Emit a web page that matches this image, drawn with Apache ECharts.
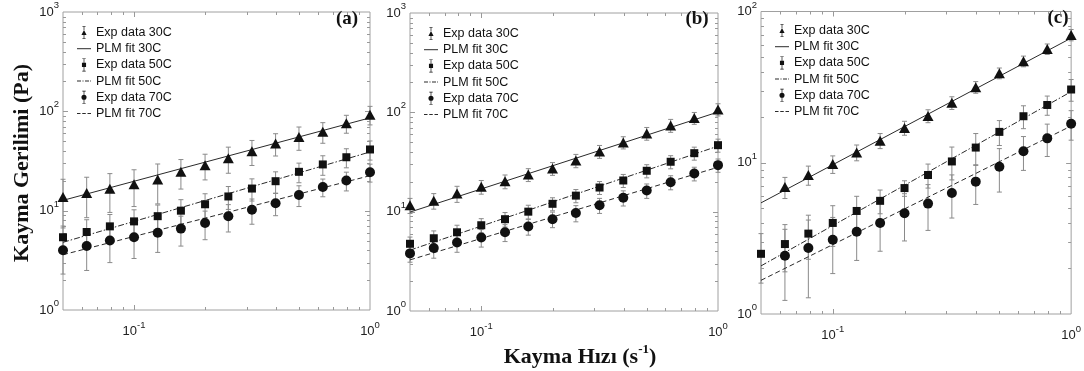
<!DOCTYPE html>
<html>
<head>
<meta charset="utf-8">
<script src="https://cdn.jsdelivr.net/npm/echarts@6/dist/echarts.min.js"></script>
<style>
  html, body { margin: 0; padding: 0; background: #fff; }
  #myChart { width: 1084px; height: 371px; }
</style>
</head>
<body>
<div id="myChart"></div>
<script>
let myChart = echarts.init(document.getElementById('myChart'));

// shear rate (1/s), same for every panel
const shearRate = [0.05, 0.063, 0.079, 0.1, 0.126, 0.158, 0.2, 0.251, 0.316, 0.398, 0.5, 0.631, 0.794, 1.0];
const fitRate = [0.05, 1.0];

// panel (a)
const a30 = [13.7, 15.1, 16.6, 18.4, 20.6, 24.6, 28.7, 33.7, 39.7, 47.5, 55, 62.3, 75.7, 92.6];
const a30err = [7, 6.6, 7, 7.4, 8.9, 8.1, 8.3, 9.9, 11.2, 12, 14.5, 14.6, 15.5, 19.6];
const a50 = [5.4, 6.1, 6.95, 7.8, 8.8, 10, 11.6, 13.9, 16.7, 19.8, 24.6, 29.2, 34.5, 41.3];
const a50err = [1.6, 2.0, 2.2, 2.4, 2.6, 2.9, 3.2, 3.6, 4.2, 4.8, 5.5, 6.5, 7.5, 9];
const a70 = [4.0, 4.4, 5.0, 5.4, 6.0, 6.6, 7.5, 8.8, 10.2, 11.9, 14.4, 17.3, 20.1, 24.4];
const a70err = [1.7, 1.9, 2.0, 2.1, 2.2, 2.2, 2.4, 2.7, 2.9, 3.0, 3.4, 3.5, 4.3, 5];
const aFit30 = [12.7, 86];
const aFit50 = [4.8, 39];
const aFit70 = [3.6, 22.5];

// panel (b)
const b30 = [11.6, 12.9, 15.2, 17.8, 20.2, 23.6, 27.2, 32.7, 40.4, 49.8, 61.4, 73.9, 87.7, 107];
const b30err = [2, 2.3, 2.8, 2.8, 3.2, 3.5, 4, 5, 6, 7, 9, 11, 12, 15];
const b50 = [4.75, 5.4, 6.2, 7.3, 8.4, 10, 12.0, 14.5, 17.5, 20.6, 25.8, 31.8, 38.8, 46.7];
const b50err = [0.8, 1.0, 1.1, 1.2, 1.4, 1.6, 1.8, 2.2, 2.6, 3.1, 3.9, 4.8, 5.8, 7];
const b70 = [3.8, 4.3, 4.9, 5.5, 6.2, 7.1, 8.4, 9.7, 11.6, 13.8, 16.3, 19.8, 24.2, 29.4];
const b70err = [0.7, 0.9, 1.0, 1.1, 1.2, 1.3, 1.5, 1.8, 2.0, 2.4, 2.7, 3.2, 3.8, 4.5];
const bFit30 = [9.9, 100.7];
const bFit50 = [4.1, 45.7];
const bFit70 = [3.27, 28];

// panel (c)
const c30 = [null, 6.9, 8.3, 9.8, 11.7, 14.0, 17.0, 20.4, 24.9, 31.6, 39.1, 46.9, 56.5, 70];
const c30err = [null, 1.1, 1.2, 1.3, 1.4, 1.6, 1.8, 2.0, 2.4, 2.8, 3.2, 3.8, 4.5, 6];
const c50 = [2.5, 2.9, 3.4, 4.0, 4.8, 5.6, 6.8, 8.3, 10.2, 12.6, 16.0, 20.3, 24.1, 30.5];
const c50err = [0.9, 1.0, 1.1, 1.2, 1.2, 1.0, 0.8, 1.5, 2.5, 3, 3, 3.5, 3.5, 5];
const c70 = [null, 2.43, 2.73, 3.1, 3.5, 4.0, 4.64, 5.37, 6.31, 7.5, 9.4, 11.9, 14.5, 18.1];
const c70err = [null, 1.2, 1.45, 1.25, 1.24, 1.4, 1.6, 1.8, 2.0, 2.2, 3, 3, 3.5, 4];
const cFit30 = [5.43, 66.7];
const cFit50 = [2.08, 29.5];
const cFit70 = [1.67, 17.5];

// tick positions
const majorX = [0.1];
const minorX = [0.06, 0.07, 0.08, 0.09, 0.2, 0.3, 0.4, 0.5, 0.6, 0.7, 0.8, 0.9];
const majorY = [10, 100];
const minorY = [2, 3, 4, 5, 6, 7, 8, 9, 20, 30, 40, 50, 60, 70, 80, 90, 200, 300, 400, 500, 600, 700, 800, 900];

const panelLabels = ['(a)', '(b)', '(c)'];
const yMaxes = [1000, 1000, 100];

const panels = [
  { exp: [a30, a50, a70], err: [a30err, a50err, a70err], fit: [aFit30, aFit50, aFit70] },
  { exp: [b30, b50, b70], err: [b30err, b50err, b70err], fit: [bFit30, bFit50, bFit70] },
  { exp: [c30, c50, c70], err: [c30err, c50err, c70err], fit: [cFit30, cFit50, cFit70] }
];

const grids = [
  { left: 63, top: 12, width: 307, height: 298 },
  { left: 410, top: 13, width: 308, height: 298 },
  { left: 761, top: 10, width: 311, height: 304 }
];
const labelPos = [[347, 19], [697, 19], [1058, 18]];

const temps = ['30C', '50C', '70C'];
const markers = ['triangle', 'rect', 'circle'];
const markerSize = [[11, 10], 8, 10];
const fitDash = ['solid', [6, 2, 1.5, 2], [5, 3]];

// legend icons: small error bar with the marker in the middle
const expIcons = [
  'path://M4.6 1 L5.4 1 L5.4 5 L4.6 5 Z M3 0.4 L7 0.4 L7 1.1 L3 1.1 Z M4.6 11 L5.4 11 L5.4 15 L4.6 15 Z M3 14.9 L7 14.9 L7 15.6 L3 15.6 Z M2 10.8 L5 5 L8 10.8 Z',
  'path://M4.6 1 L5.4 1 L5.4 5.5 L4.6 5.5 Z M3 0.4 L7 0.4 L7 1.1 L3 1.1 Z M4.6 10.5 L5.4 10.5 L5.4 15 L4.6 15 Z M3 14.9 L7 14.9 L7 15.6 L3 15.6 Z M2.6 5.4 L7.4 5.4 L7.4 10.6 L2.6 10.6 Z',
  'path://M4.6 1 L5.4 1 L5.4 5 L4.6 5 Z M3 0.4 L7 0.4 L7 1.1 L3 1.1 Z M4.6 11 L5.4 11 L5.4 15 L4.6 15 Z M3 14.9 L7 14.9 L7 15.6 L3 15.6 Z M2 8 A3 3 0 1 1 8 8 A3 3 0 1 1 2 8 Z'
];
// legend icons for the fit lines (solid, dash-dot, dashed)
const fitIcons = [
  'path://M0 0 L14 0 L14 1 L0 1 Z',
  'path://M0 0 L4 0 L4 1 L0 1 Z M5.5 0 L6.5 0 L6.5 1 L5.5 1 Z M8 0 L12 0 L12 1 L8 1 Z M13.2 0 L14 0 L14 1 L13.2 1 Z',
  'path://M0 0 L3.5 0 L3.5 1 L0 1 Z M5.25 0 L8.75 0 L8.75 1 L5.25 1 Z M10.5 0 L14 0 L14 1 L10.5 1 Z'
];

const legendData = [];
temps.forEach(function (t, k) {
  legendData.push({ name: 'Exp data ' + t, icon: expIcons[k] });
  legendData.push({ name: 'PLM fit ' + t, icon: fitIcons[k] });
});

function powLabel(value) {
  const e = Math.log10(value);
  const n = Math.round(e);
  if (Math.abs(e - n) > 1e-6) return '';
  return '{b|10}{e|' + n + '}';
}
const labelRich = {
  b: { fontSize: 13, fontFamily: 'Liberation Sans', color: '#222', lineHeight: 23 },
  e: { fontSize: 9.5, fontFamily: 'Liberation Sans', color: '#222', lineHeight: 10, verticalAlign: 'top' }
};

function renderErrorBar(params, api) {
  const x = api.value(0);
  const top = api.coord([x, api.value(2)]);
  const bot = api.coord([x, api.value(1)]);
  const cap = 2.5;
  const style = { stroke: '#8a8a8a', lineWidth: 1 };
  return {
    type: 'group',
    children: [
      { type: 'line', shape: { x1: top[0], y1: top[1], x2: bot[0], y2: bot[1] }, style: style },
      { type: 'line', shape: { x1: top[0] - cap, y1: top[1], x2: top[0] + cap, y2: top[1] }, style: style },
      { type: 'line', shape: { x1: bot[0] - cap, y1: bot[1], x2: bot[0] + cap, y2: bot[1] }, style: style }
    ]
  };
}

function renderTick(params, api) {
  const cs = params.coordSys;
  const kind = api.value(2);
  const p = api.coord([api.value(0), api.value(1)]);
  const len = (kind === 1 || kind === 3) ? 5 : 3;
  const style = { stroke: '#999', lineWidth: 1 };
  let shapes;
  if (kind < 2) {
    const x = Math.round(p[0]) + 0.5;
    const b = cs.y + cs.height;
    shapes = [
      { x1: x, y1: b, x2: x, y2: b - len },
      { x1: x, y1: cs.y, x2: x, y2: cs.y + len }
    ];
  } else {
    const y = Math.round(p[1]) + 0.5;
    const r = cs.x + cs.width;
    shapes = [
      { x1: cs.x, y1: y, x2: cs.x + len, y2: y },
      { x1: r, y1: y, x2: r - len, y2: y }
    ];
  }
  return {
    type: 'group',
    children: shapes.map(function (s) { return { type: 'line', shape: s, style: style }; })
  };
}

const xAxes = [];
const yAxes = [];
const series = [];
const legends = [];
const graphics = [];

grids.forEach(function (g, i) {
  xAxes.push({
    type: 'log', gridIndex: i, min: 0.05, max: 1, logBase: 10,
    axisLine: { show: false }, axisTick: { show: false }, splitLine: { show: false },
    axisLabel: { formatter: powLabel, rich: labelRich, margin: 10, showMinLabel: true, showMaxLabel: true }
  });
  yAxes.push({
    type: 'log', gridIndex: i, min: 1, max: yMaxes[i], logBase: 10,
    axisLine: { show: false }, axisTick: { show: false }, splitLine: { show: false },
    axisLabel: { formatter: powLabel, rich: labelRich, margin: 4 }
  });

  const p = panels[i];
  temps.forEach(function (t, k) {
    const vals = p.exp[k];
    const errs = p.err[k];
    const errData = [];
    const ptData = [];
    shearRate.forEach(function (x, j) {
      if (vals[j] == null) return;
      ptData.push([x, vals[j]]);
      errData.push([x, Math.max(vals[j] - errs[j], 1.01), vals[j] + errs[j]]);
    });
    series.push({
      type: 'custom', xAxisIndex: i, yAxisIndex: i, renderItem: renderErrorBar,
      data: errData, encode: { x: 0, y: [1, 2] }, z: 2, silent: true
    });
    series.push({
      type: 'line', name: 'PLM fit ' + t, xAxisIndex: i, yAxisIndex: i,
      data: fitRate.map(function (x, j) { return [x, p.fit[k][j]]; }),
      symbol: 'none', z: 3,
      lineStyle: { color: '#2a2a2a', width: 1, type: fitDash[k] },
      itemStyle: { color: '#2a2a2a' }
    });
    series.push({
      type: 'scatter', name: 'Exp data ' + t, xAxisIndex: i, yAxisIndex: i,
      data: ptData, symbol: markers[k], symbolSize: markerSize[k], z: 4,
      itemStyle: { color: '#111', opacity: 1 }
    });
  });

  const tickData = [];
  majorX.forEach(function (v) { tickData.push([v, 2, 1]); });
  minorX.forEach(function (v) { tickData.push([v, 2, 0]); });
  majorY.forEach(function (v) { if (v < yMaxes[i]) tickData.push([0.1, v, 3]); });
  minorY.forEach(function (v) { if (v < yMaxes[i]) tickData.push([0.1, v, 2]); });
  series.push({
    type: 'custom', xAxisIndex: i, yAxisIndex: i, renderItem: renderTick,
    data: tickData, encode: { x: 0, y: 1 }, z: 1, silent: true
  });

  legends.push({
    orient: 'vertical', left: g.left + 9, top: g.top + 9,
    itemWidth: 14, itemHeight: 13, itemGap: 3.2, symbolKeepAspect: true,
    data: legendData, selectedMode: false,
    textStyle: { fontFamily: 'Liberation Sans', fontSize: 12.5, color: '#111', lineHeight: 13 }
  });

  graphics.push({
    type: 'text', x: labelPos[i][0], y: labelPos[i][1],
    style: {
      text: panelLabels[i], textAlign: 'center', textVerticalAlign: 'middle',
      font: 'bold 19px "Liberation Serif"', fill: '#111'
    }
  });
});

graphics.push({
  type: 'text', x: 22, y: 163, rotation: Math.PI / 2,
  style: {
    text: 'Kayma Gerilimi (Pa)', textAlign: 'center', textVerticalAlign: 'middle',
    font: 'bold 22px "Liberation Serif"', fill: '#111'
  }
});
graphics.push({
  type: 'text', x: 580, y: 357,
  style: {
    text: '{a|Kayma Hızı (s}{s|-1}{a|)}', textAlign: 'center', textVerticalAlign: 'middle',
    rich: {
      a: { fontFamily: 'Liberation Serif', fontWeight: 'bold', fontSize: 22, fill: '#111', lineHeight: 28 },
      s: { fontFamily: 'Liberation Serif', fontWeight: 'bold', fontSize: 13, fill: '#111', lineHeight: 15, verticalAlign: 'top' }
    }
  }
});

let myChartOption = {
  animation: false,
  backgroundColor: '#fff',
  grid: grids.map(function (g) {
    return { left: g.left, top: g.top, width: g.width, height: g.height, show: true, borderColor: '#a0a0a0', borderWidth: 1, backgroundColor: 'transparent' };
  }),
  xAxis: xAxes,
  yAxis: yAxes,
  legend: legends,
  graphic: graphics,
  series: series
};

myChart.setOption(myChartOption);
</script>
</body>
</html>
